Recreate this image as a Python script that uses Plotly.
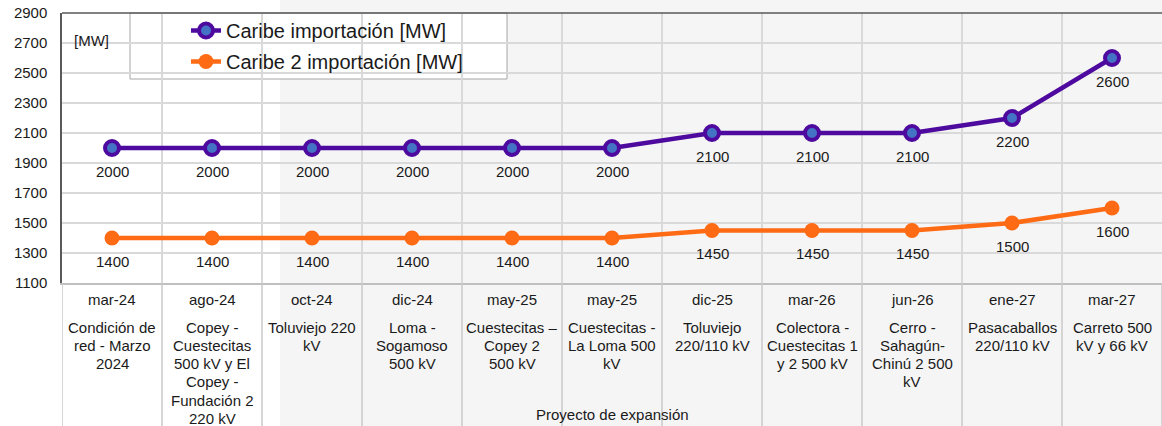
import plotly.graph_objects as go

fechas = ["mar-24", "ago-24", "oct-24", "dic-24", "may-25", "may-25",
          "dic-25", "mar-26", "jun-26", "ene-27", "mar-27"]
proyectos = [
    "Condición de<br>red - Marzo<br>2024",
    "Copey -<br>Cuestecitas<br>500 kV y El<br>Copey -<br>Fundación 2<br>220 kV",
    "Toluviejo 220<br>kV",
    "Loma -<br>Sogamoso<br>500 kV",
    "Cuestecitas –<br>Copey 2<br>500 kV",
    "Cuestecitas -<br>La Loma 500<br>kV",
    "Toluviejo<br>220/110 kV",
    "Colectora -<br>Cuestecitas 1<br>y 2 500 kV",
    "Cerro -<br>Sahagún-<br>Chinú 2 500<br>kV",
    "Pasacaballos<br>220/110 kV",
    "Carreto 500<br>kV y 66 kV",
]
caribe = [2000, 2000, 2000, 2000, 2000, 2000, 2100, 2100, 2100, 2200, 2600]
caribe2 = [1400, 1400, 1400, 1400, 1400, 1400, 1450, 1450, 1450, 1500, 1600]
y_ticks = list(range(1100, 3000, 200))

FONT = "Liberation Sans, Arial, sans-serif"
TXT = "#1a1a1a"
PURPLE = "#4E0A9E"
ORANGE = "#FF6A14"

W, H = 1162, 426
ML, MR, MT, MB = 62, 0, 13, 143
PH = H - MT - MB
PW = W - ML - MR

def py(px):
    # pixel y (from top) -> paper y
    return (H - MB - px) / PH

def pxx(px):
    return (px - ML) / PW

n = len(fechas)
xs = list(range(n))

fig = go.Figure()
fig.add_trace(go.Scatter(
    x=xs, y=caribe, mode="lines+markers", name="Caribe importación [MW]",
    line=dict(color=PURPLE, width=4.5),
    marker=dict(size=14, color="#4472C4", line=dict(color=PURPLE, width=4)),
    legendgroup="a",
))
fig.add_trace(go.Scatter(
    x=xs, y=caribe2, mode="lines+markers", name="Caribe 2 importación [MW]",
    line=dict(color=ORANGE, width=4.5),
    marker=dict(size=15, color=ORANGE, line=dict(color=ORANGE, width=0)),
    legendgroup="b",
))

shapes = []
shapes.append(dict(type="rect", xref="paper", yref="paper",
                   x0=pxx(280), x1=pxx(W), y0=py(H), y1=py(0),
                   fillcolor="#f5f5f5", line=dict(width=0), layer="below"))
for i in range(n + 1):
    shapes.append(dict(type="line", xref="x", yref="paper",
                       x0=i - 0.5, x1=i - 0.5, y0=0, y1=py(H),
                       line=dict(color="#c9c9c9", width=1.5)))
shapes.append(dict(type="line", xref="paper", yref="paper", x0=0, x1=1, y0=1, y1=1,
                   line=dict(color="#595959", width=1.5)))
shapes.append(dict(type="rect", xref="paper", yref="paper",
                   x0=pxx(130), x1=pxx(507), y0=py(79), y1=py(13),
                   fillcolor="white", line=dict(color="#a6a6a6", width=1), layer="between"))

annotations = []
for serie in (caribe, caribe2):
    for i, v in enumerate(serie):
        annotations.append(dict(x=i, y=v, xref="x", yref="y", text=str(v),
                                showarrow=False, yshift=-23,
                                font=dict(family=FONT, size=15, color=TXT)))
LINE_H = 18.3
for i in range(n):
    annotations.append(dict(x=i, y=py(299), xref="x", yref="paper", text=fechas[i],
                            showarrow=False, yanchor="middle",
                            font=dict(family=FONT, size=15, color=TXT)))
    for k, linea in enumerate(proyectos[i].split("<br>")):
        annotations.append(dict(x=i, y=py(327 + k * LINE_H), xref="x", yref="paper",
                                text=linea, showarrow=False, yanchor="middle",
                                font=dict(family=FONT, size=15, color=TXT)))
annotations.append(dict(x=pxx(612), y=py(414), xref="paper", yref="paper",
                        text="Proyecto de expansión", showarrow=False, yanchor="middle",
                        font=dict(family=FONT, size=15, color=TXT)))
annotations.append(dict(x=pxx(72), y=py(30), xref="paper", yref="paper",
                        text="[MW]", showarrow=False, xanchor="left",
                        font=dict(family=FONT, size=15, color=TXT)))

fig.update_layout(
    width=W, height=H,
    margin=dict(l=ML, r=MR, t=MT, b=MB),
    paper_bgcolor="white", plot_bgcolor="rgba(0,0,0,0)",
    font=dict(family=FONT, size=15, color=TXT),
    showlegend=True,
    legend=dict(x=pxx(166), y=py(11), xanchor="left", yanchor="top",
                bgcolor="rgba(0,0,0,0)", borderwidth=0, indentation=20,
                tracegroupgap=2,
                font=dict(family=FONT, size=20, color=TXT)),
    xaxis=dict(range=[-0.5, n - 0.5], tickvals=[i - 0.5 for i in range(n + 1)],
               showticklabels=False, ticks="", showgrid=True, gridcolor="#d9d9d9",
               gridwidth=1.5, zeroline=False, showline=True, linecolor="#bfbfbf",
               linewidth=2),
    yaxis=dict(range=[1100, 2900], tickvals=y_ticks, showgrid=True,
               gridcolor="#d9d9d9", gridwidth=1.5, zeroline=False, showline=True,
               linecolor="#595959", linewidth=1.5, ticks="", ticklabelstandoff=10,
               tickfont=dict(family=FONT, size=15, color=TXT)),
    shapes=shapes, annotations=annotations,
)

fig.write_html("out.html", config={"displayModeBar": False},
               post_script="document.body.style.margin='0';document.body.style.padding='0';")
